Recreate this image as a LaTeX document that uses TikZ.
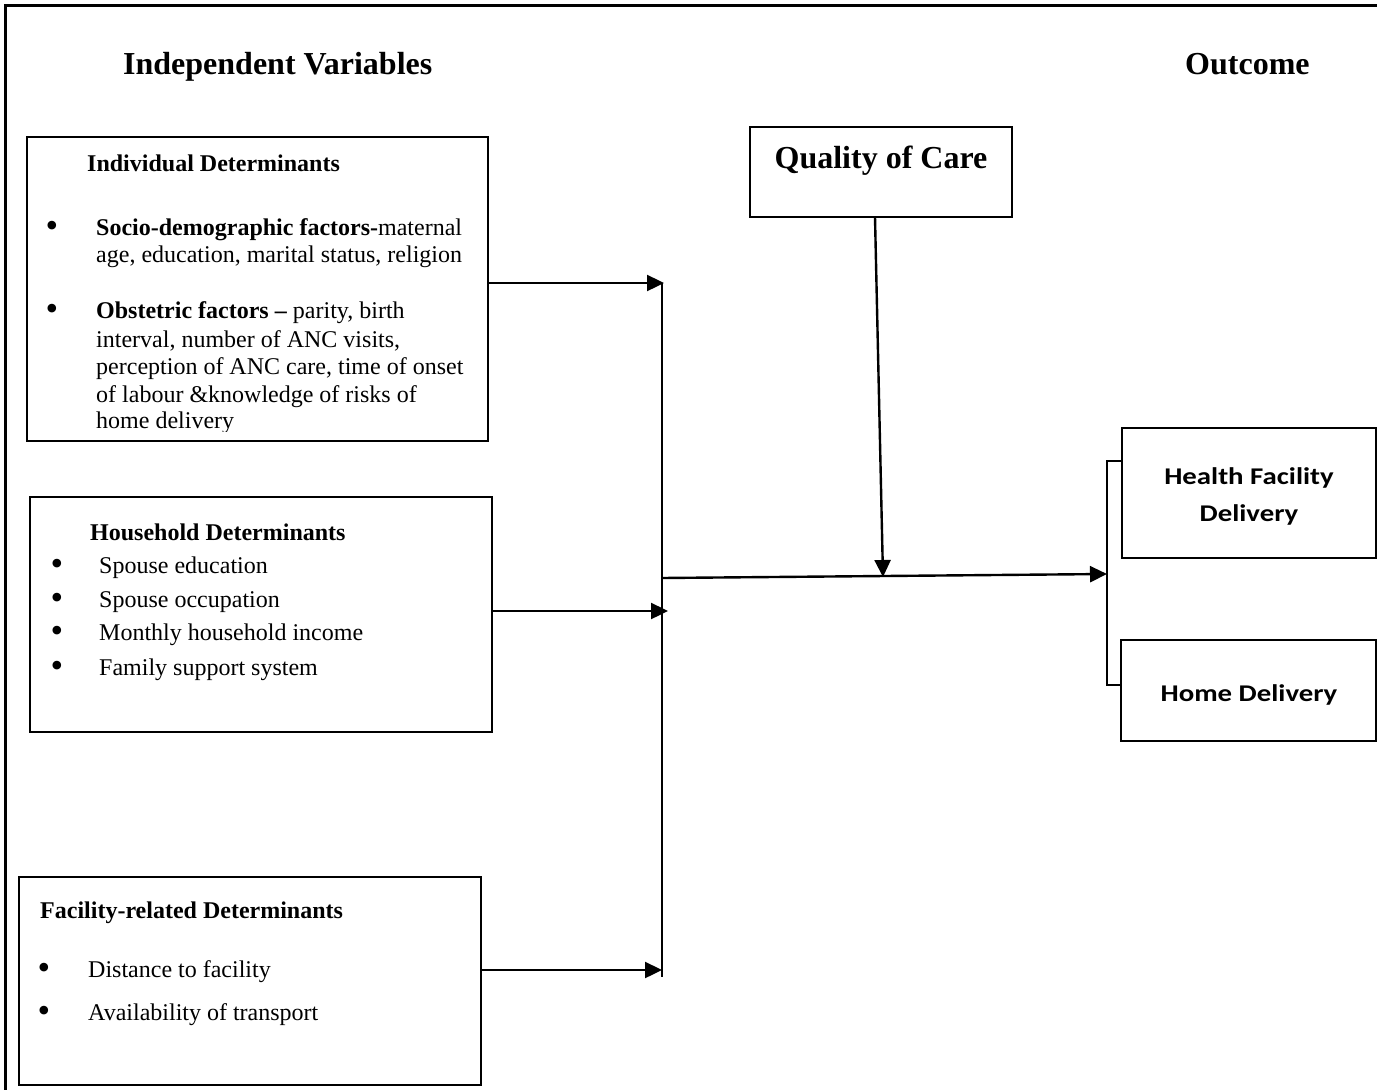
\documentclass[tikz,border=0pt]{standalone}
\usepackage{fontspec}
\setmainfont{Liberation Serif}
\newfontfamily\calib[FakeStretch=1.2]{Carlito}
\usetikzlibrary{arrows.meta}
\begin{document}
\begin{tikzpicture}[x=1pt,y=-1pt,
 box/.style={draw, line width=2.5pt, rectangle, inner sep=0pt, outer sep=0pt, anchor=north west},
 txt/.style={anchor=base west, inner sep=0pt, font=\fontsize{24}{28}\selectfont},
 head/.style={anchor=base west, inner sep=0pt, font=\fontsize{24}{28}\selectfont\bfseries},
 big/.style={inner sep=0pt, font=\fontsize{32}{36}\selectfont\bfseries},
 bul/.style={anchor=base, inner sep=0pt, yshift=-2.5pt, font=\fontsize{36}{36}\selectfont},
 cal/.style={anchor=base, inner sep=0pt, font=\fontsize{24}{28}\selectfont\calib\bfseries},
 arr/.style={line width=2.4pt, -{Triangle[length=17pt,width=16pt]}},
 ln/.style={line width=2.4pt}]
\useasboundingbox (0,0) rectangle (1377,1090);
% outer frame
\draw[line width=3pt] (5,1095) -- (5,5) -- (1382,5);

% titles
\node[big, anchor=base west] (title) at (123,74) {Independent Variables};
\node[big, anchor=base west] (outc) at (1185,74) {Outcome};

% boxes
\node[box, minimum width=461pt, minimum height=304pt] (ind) at (27,137) {};
\node[box, minimum width=462pt, minimum height=235pt] (hh) at (30,497) {};
\node[box, minimum width=462pt, minimum height=208pt] (fac) at (19,877) {};
\node[box, minimum width=262pt, minimum height=90pt] (qoc) at (750,127) {};
\node[box, minimum width=254pt, minimum height=130pt] (hf) at (1122,428) {};
\node[box, minimum width=255pt, minimum height=101pt] (hd) at (1121,640) {};

% individual determinants
\node[head] (ih) at (87,171) {Individual Determinants};
\node[bul] (ib1) at (52,235) {\textbullet};
\node[txt] (i1) at (96,235) {\textbf{Socio-demographic factors-}maternal};
\node[txt] (i2) at (96,262) {age, education, marital status, religion};
\node[bul] (ib2) at (52,318) {\textbullet};
\node[txt] (i3) at (96,318) {\textbf{Obstetric factors –} parity, birth};
\node[txt] (i4) at (96,347) {interval, number of ANC visits,};
\node[txt] (i5) at (96,374) {perception of ANC care, time of onset};
\node[txt] (i6) at (96,402) {of labour \&knowledge of risks of};
\begin{scope}
\clip (27,137) rectangle (488,431);
\node[txt] (i7) at (96,428) {home delivery};
\end{scope}

% household determinants
\node[head] (hhh) at (90,540) {Household Determinants};
\node[bul] (hb1) at (57,573) {\textbullet};
\node[txt] (h1) at (99,573) {Spouse education};
\node[bul] (hb2) at (57,607) {\textbullet};
\node[txt] (h2) at (99,607) {Spouse occupation};
\node[bul] (hb3) at (57,640) {\textbullet};
\node[txt] (h3) at (99,640) {Monthly household income};
\node[bul] (hb4) at (57,675) {\textbullet};
\node[txt] (h4) at (99,675) {Family support system};

% facility determinants
\node[head] (fh) at (40,918) {Facility-related Determinants};
\node[bul] (fb1) at (44,977) {\textbullet};
\node[txt] (f1) at (88,977) {Distance to facility};
\node[bul] (fb2) at (44,1020) {\textbullet};
\node[txt] (f2) at (88,1020) {Availability of transport};

% quality of care
\node[big, anchor=base] (qt) at (881,168) {Quality of Care};

% outcomes
\node[cal] (hf1) at (1249,484) {Health Facility};
\node[cal] (hf2) at (1249,521) {Delivery};
\node[cal] (hd1) at (1249,701) {Home Delivery};

% connectors
\coordinate (j1) at (664,283);
\coordinate (j2) at (668,611);
\coordinate (j3) at (662,970);
\coordinate (jm) at (662,578);
\coordinate (jt) at (662,283);
\coordinate (jb) at (662,977);
\coordinate (bt) at (1107,461);
\coordinate (bb) at (1107,685);
\coordinate (bm) at (1107,574);
\coordinate (qm) at (883,577);

\draw[ln] (jt) -- (jb);
\draw[arr] (ind.east |- j1) -- (j1);
\draw[arr] (hh.east |- j2) -- (j2);
\draw[arr] (fac.east |- j3) -- (j3);
\draw[arr] (jm) -- (bm);
\draw[arr] ([xshift=-6pt]qoc.south) -- (qm);
\draw[ln] (hf.west |- bt) -- (bt) -- (bb) -- (hd.west |- bb);
\end{tikzpicture}
\end{document}
